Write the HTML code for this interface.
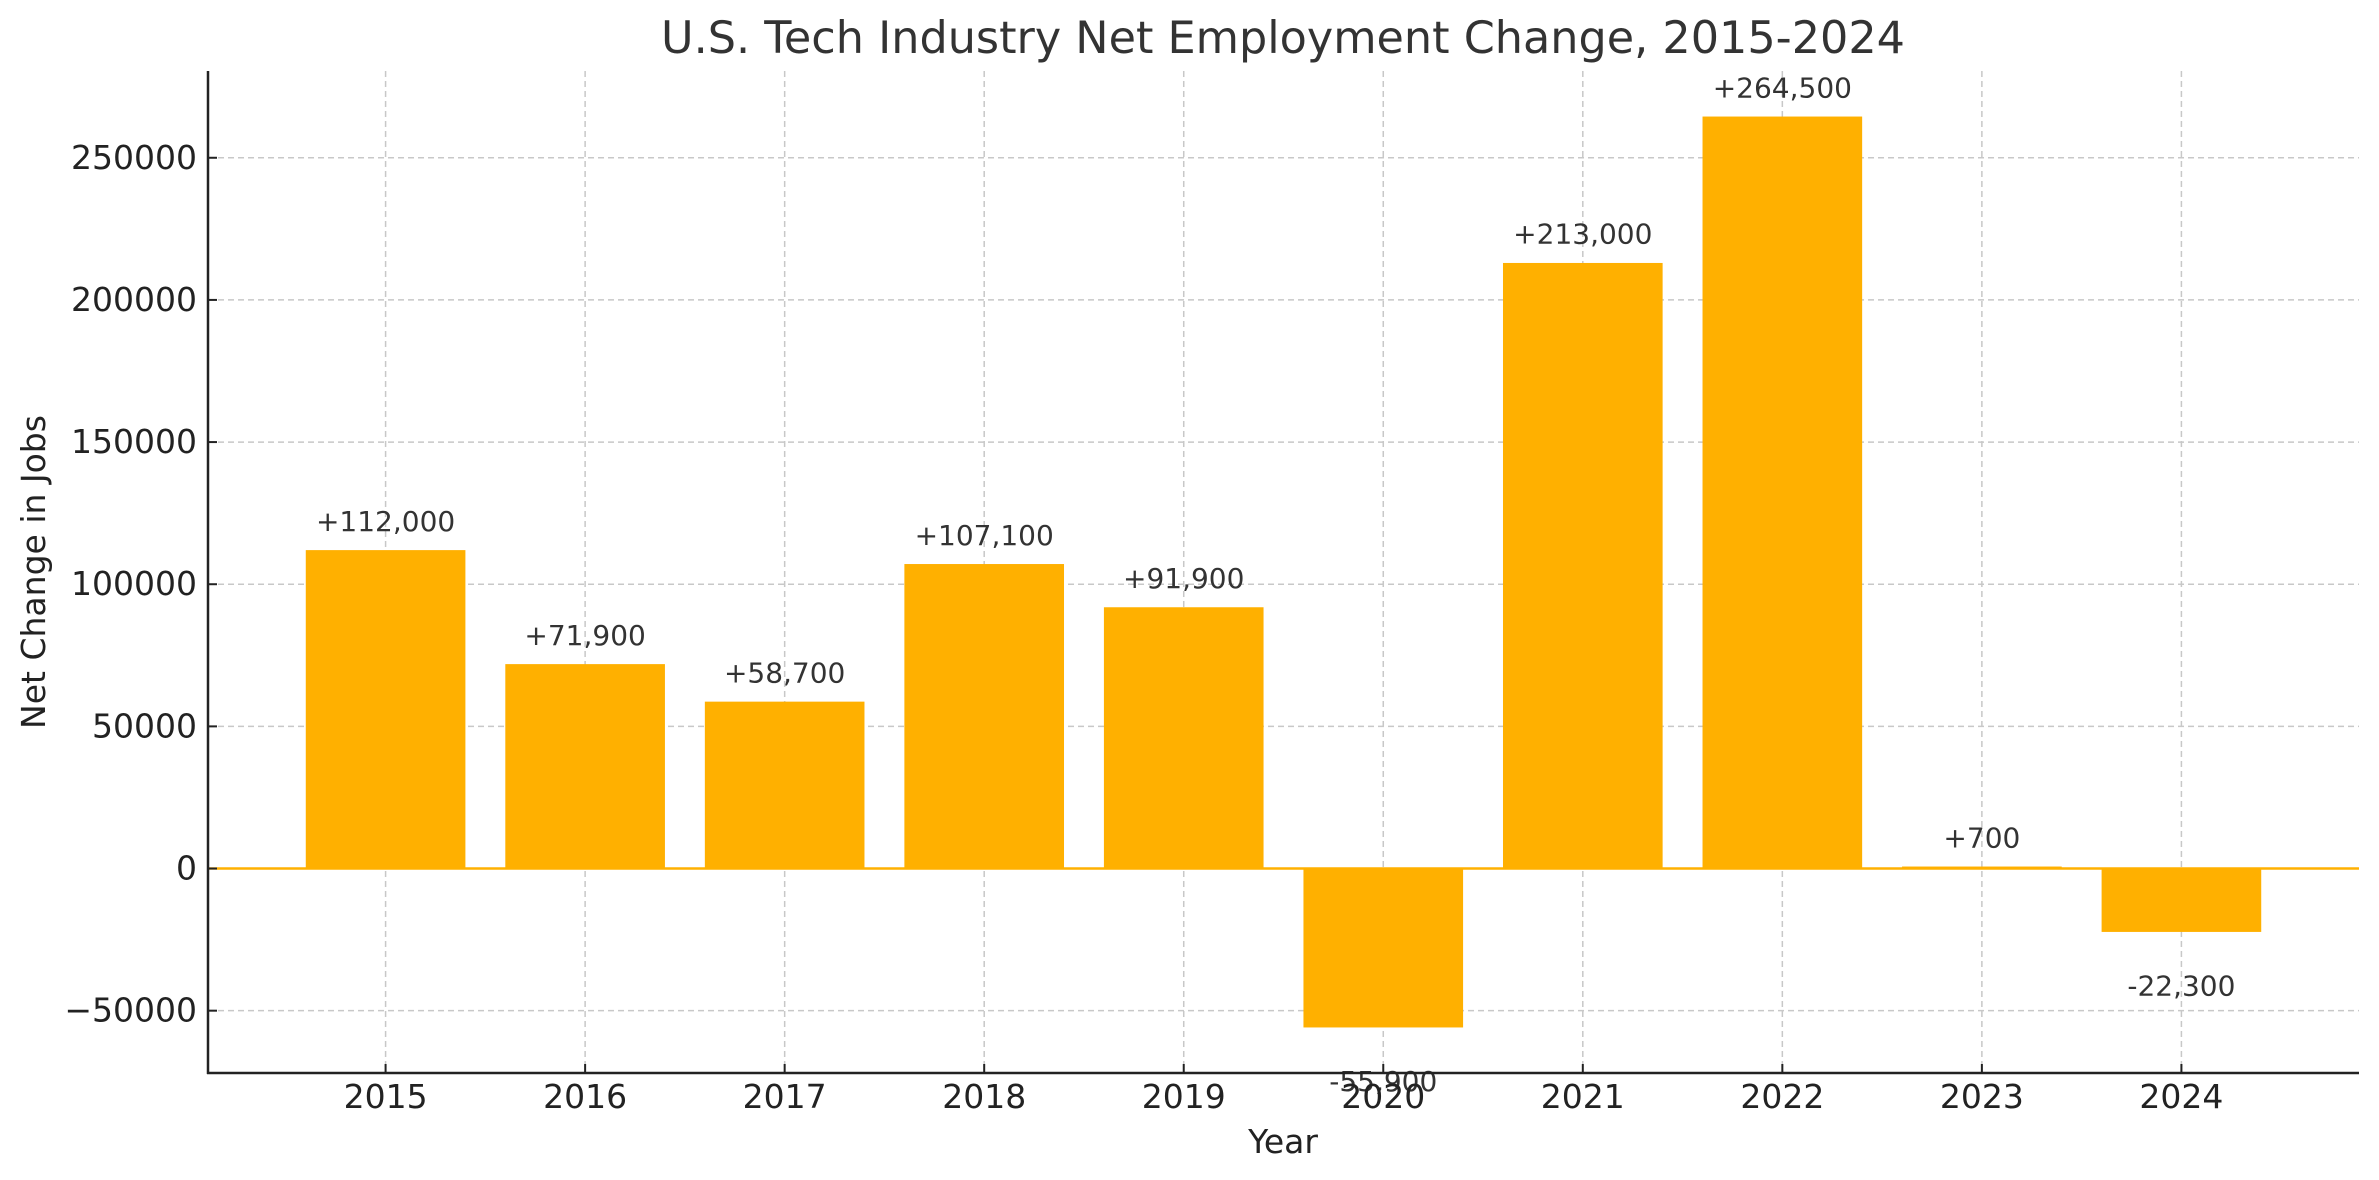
<!DOCTYPE html>
<html><head><meta charset="utf-8"><style>
html,body{margin:0;padding:0;background:#fff}
svg{display:block;font-family:"DejaVu Sans","Liberation Sans",sans-serif}
</style></head><body>
<svg id="chart" width="2379" height="1180" viewBox="0 0 2379 1180" xmlns="http://www.w3.org/2000/svg">
<text x="1283" y="53" font-size="44.5" text-anchor="middle" fill="#333">U.S. Tech Industry Net Employment Change, 2015-2024</text>
<text transform="translate(45,572) rotate(-90)" font-size="33" text-anchor="middle" fill="#222">Net Change in Jobs</text>
<text x="1283" y="1153" font-size="33" text-anchor="middle" fill="#222">Year</text>
<g id="grid"></g>
<g id="bars"></g>
<g id="axes"></g>
</svg>
<script>
const categories = ["2015","2016","2017","2018","2019","2020","2021","2022","2023","2024"];
const values = [112000,71900,58700,107100,91900,-55900,213000,264500,700,-22300];
const valueLabels = ["+112,000","+71,900","+58,700","+107,100","+91,900","-55,900","+213,000","+264,500","+700","-22,300"];
const yTicks = [-50000,0,50000,100000,150000,200000,250000];
const yTickLabels = ["\u221250000","0","50000","100000","150000","200000","250000"];

const NS="http://www.w3.org/2000/svg";
const L=208,R=2359,T=71,B=1073;
const yMin=-71920,yMax=280520;
const xMin=-0.89,xMax=categories.length-1+0.89;
const xs=i=>L+(i-xMin)/(xMax-xMin)*(R-L);
const ys=v=>B-(v-yMin)/(yMax-yMin)*(B-T);
const bw=0.8*(R-L)/(xMax-xMin);
function mk(tag,attrs,parent){const e=document.createElementNS(NS,tag);for(const k in attrs)e.setAttribute(k,attrs[k]);parent.appendChild(e);return e;}
const grid=document.getElementById('grid'),bars=document.getElementById('bars'),axes=document.getElementById('axes');

yTicks.forEach((t,i)=>{
  const y=ys(t);
  const g=mk('line',{x1:L,x2:R,y1:y,y2:y,stroke:'#c8c8c8','stroke-width':1.5,'stroke-dasharray':'6,4'},grid);
  
  
  const tk=mk('line',{x1:L,x2:L+9,y1:y,y2:y,stroke:'#222','stroke-width':2},axes);
  
  
  const tx=mk('text',{x:197,y:y+11,'font-size':33,'text-anchor':'end',fill:'#222'},axes);
  tx.textContent=yTickLabels[i];
  
  
});
categories.forEach((c,i)=>{
  const x=xs(i);
  const g=mk('line',{x1:x,x2:x,y1:T,y2:B,stroke:'#c8c8c8','stroke-width':1.5,'stroke-dasharray':'6,4'},grid);
  
  
});
categories.forEach((c,i)=>{
  const x=xs(i),v=values[i];
  const y0=ys(0),y1=ys(v);
  const r=mk('rect',{x:x-bw/2,y:Math.min(y0,y1),width:bw,height:Math.max(Math.abs(y1-y0),1),fill:'#FFB000'},bars);
  
  
});
const zl=mk('line',{x1:L,x2:R,y1:ys(0),y2:ys(0),stroke:'#FFB000','stroke-width':2.5},bars);


categories.forEach((c,i)=>{
  const x=xs(i),v=values[i];
  const t=mk('text',{x:x,'font-size':28,'text-anchor':'middle',fill:'#333'},bars);
  if(v>=0){t.setAttribute('y',ys(v+5000)-5);}else{t.setAttribute('y',ys(v-15000)+21);}
  t.textContent=valueLabels[i];
  
  
  const tk=mk('line',{x1:x,x2:x,y1:B,y2:B-9,stroke:'#222','stroke-width':2},axes);
  
  
  const tx=mk('text',{x:x,y:B+35,'font-size':33,'text-anchor':'middle',fill:'#222'},axes);
  tx.textContent=c;
  
  
});
const ls=mk('line',{x1:L,x2:L,y1:T,y2:B+1,stroke:'#222','stroke-width':2.5},axes);


const bs=mk('line',{x1:L-1,x2:R,y1:B,y2:B,stroke:'#222','stroke-width':2.5},axes);


</script>
</body></html>
